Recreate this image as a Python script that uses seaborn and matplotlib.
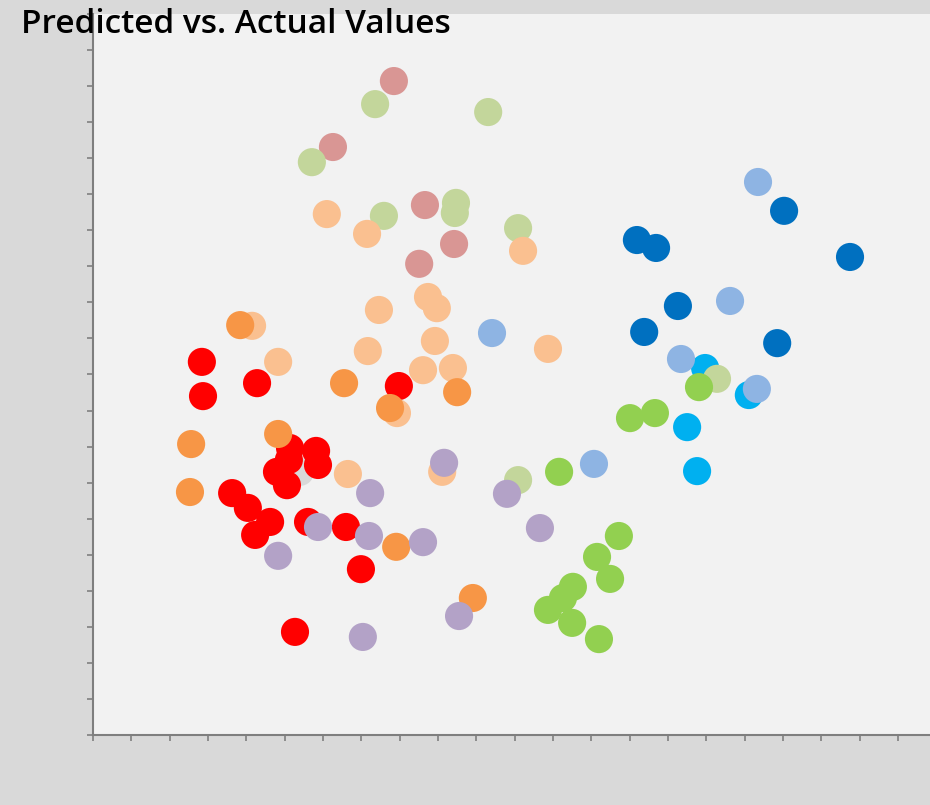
import matplotlib
matplotlib.use("Agg")
import matplotlib.pyplot as plt
import seaborn as sns
import pandas as pd
import numpy as np

# ---- data ----
gray_x = [5.40]
gray_y = [7.30]

red_x = [2.84, 2.87, 4.28, 7.98, 5.14, 5.82, 5.87, 5.11, 4.80, 5.06, 3.63, 4.04, 4.62, 4.23, 5.61, 6.60, 6.99, 5.27]
red_y = [10.35, 9.40, 9.76, 9.68, 7.96, 7.88, 7.49, 7.63, 7.30, 6.93, 6.71, 6.30, 5.91, 5.55, 5.91, 5.77, 4.60, 2.86]

lightred_x = [7.85, 6.26, 8.66, 9.42, 8.51]
lightred_y = [18.14, 16.31, 14.70, 13.62, 13.07]

darkblue_x = [14.19, 14.69, 18.03, 19.75, 15.26, 14.38, 17.85]
darkblue_y = [13.73, 13.51, 14.54, 13.26, 11.90, 11.18, 10.87]

cyan_x = [15.97, 17.11, 15.50, 15.76]
cyan_y = [10.18, 9.43, 8.54, 7.32]

lightgreen_x = [7.36, 10.31, 5.71, 7.59, 9.47, 9.44, 11.09, 11.09, 16.28]
lightgreen_y = [17.50, 17.28, 15.89, 14.40, 14.76, 14.48, 14.06, 7.07, 9.88]

lightorange_x = [4.15, 4.83, 6.10, 7.15, 7.46, 8.74, 8.97, 8.92, 7.17, 8.61, 9.39, 7.93, 6.65, 9.11, 11.22, 11.87]
lightorange_y = [11.35, 10.35, 14.45, 13.90, 11.79, 12.15, 11.84, 10.93, 10.65, 10.12, 10.18, 8.93, 7.24, 7.30, 13.43, 10.71]

lightblue_x = [17.35, 16.62, 15.34, 17.32, 13.07, 10.41]
lightblue_y = [15.34, 12.04, 10.43, 9.60, 7.52, 11.15]

green_x = [15.81, 14.01, 14.66, 12.16, 13.72, 13.15, 13.49, 12.52, 12.26, 11.87, 12.50, 13.20]
green_y = [9.65, 8.79, 8.93, 7.30, 5.52, 4.94, 4.33, 4.11, 3.80, 3.47, 3.11, 2.66]

orange_x = [3.84, 2.56, 2.53, 4.83, 6.55, 7.75, 9.50, 7.91, 9.91]
orange_y = [11.37, 8.07, 6.74, 8.35, 9.76, 9.07, 9.51, 5.22, 3.80]

purple_x = [9.16, 7.23, 5.87, 7.20, 8.61, 4.83, 7.04, 9.55, 10.80, 11.66]
purple_y = [7.55, 6.71, 5.77, 5.52, 5.35, 4.97, 2.72, 3.30, 6.69, 5.74]

title_text = "Predicted vs. Actual Values"

series = [
    ("gray", gray_x, gray_y, "#d9d9d9"),
    ("red", red_x, red_y, "#ff0000"),
    ("lightred", lightred_x, lightred_y, "#d99694"),
    ("darkblue", darkblue_x, darkblue_y, "#0070c0"),
    ("cyan", cyan_x, cyan_y, "#00b0f0"),
    ("lightgreen", lightgreen_x, lightgreen_y, "#c3d69b"),
    ("lightorange", lightorange_x, lightorange_y, "#fac090"),
    ("lightblue", lightblue_x, lightblue_y, "#8eb4e3"),
    ("green", green_x, green_y, "#92d050"),
    ("orange", orange_x, orange_y, "#f79646"),
    ("purple", purple_x, purple_y, "#b3a2c7"),
]

frames = [pd.DataFrame({"x": xs, "y": ys, "series": name}) for name, xs, ys, _ in series]
df = pd.concat(frames, ignore_index=True)
palette = {name: c for name, _, _, c in series}

sns.set_theme(style="white")
plt.rcParams['font.family'] = ['Open Sans', 'DejaVu Sans']

W, H = 930, 805
fig = plt.figure(figsize=(W / 100, H / 100), dpi=100)
fig.patch.set_facecolor("#d9d9d9")
ax = fig.add_axes([93 / W, (H - 735) / H, (W - 93) / W, (735 - 14) / H])
ax.set_facecolor("#f2f2f2")

sns.scatterplot(data=df, x="x", y="y", hue="series", palette=palette,
                s=410, linewidth=0, alpha=1, legend=False, ax=ax)

ax.set_xlim(0, 837 / 38.33)
ax.set_ylim(0, 20)
ax.set_xticks(np.arange(0, 22))
ax.set_yticks(np.arange(0, 21))
ax.set_xlabel("")
ax.set_ylabel("")
ax.tick_params(axis="both", which="major", direction="out", length=4.5,
               width=1.2, color="#7f7f7f", labelleft=False, labelbottom=False,
               left=True, bottom=True)
for side in ["top", "right"]:
    ax.spines[side].set_visible(False)
for side in ["left", "bottom"]:
    ax.spines[side].set_color("#7f7f7f")
    ax.spines[side].set_linewidth(1.5)

fig.text(21 / W, 1 - 33 / H, title_text, fontsize=24, fontweight="semibold",
         color="#000000", ha="left", va="baseline")

fig.savefig("out.png", dpi=100, facecolor=fig.get_facecolor())
